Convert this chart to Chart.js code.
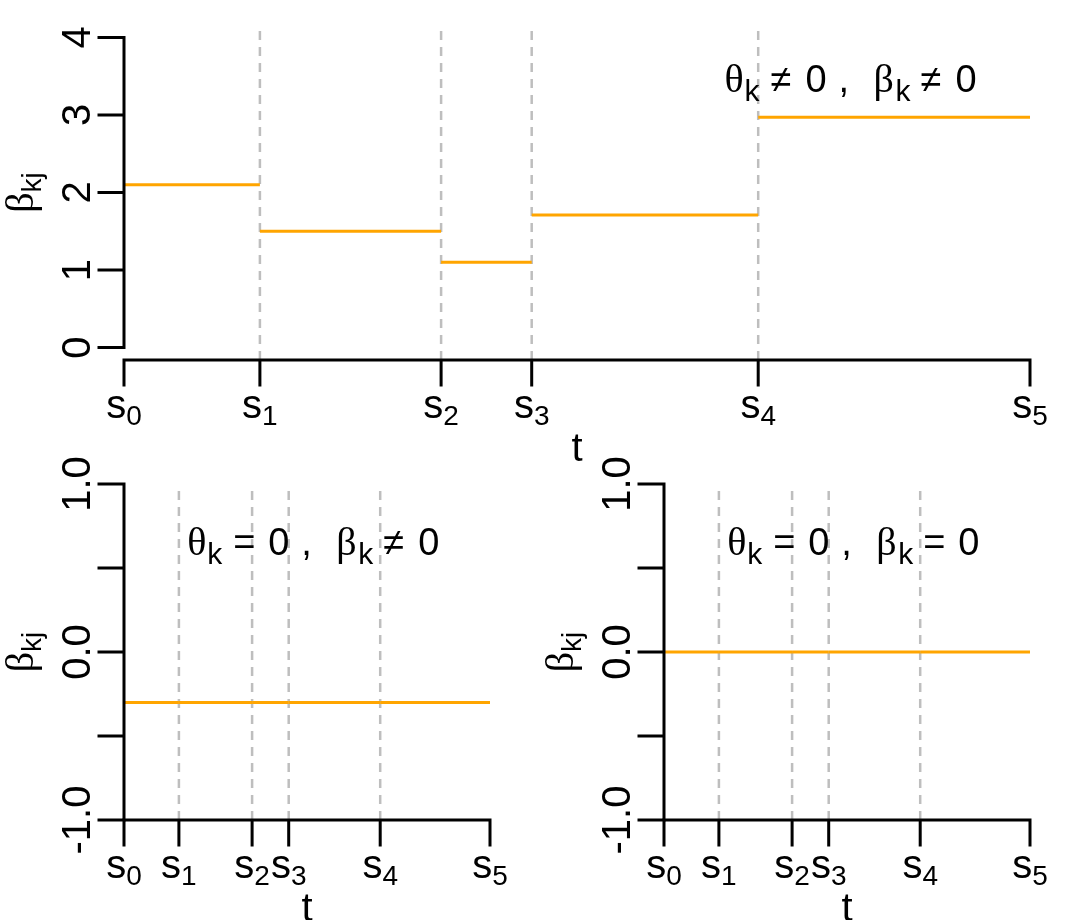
<!DOCTYPE html>
<html>
<head>
<meta charset="utf-8">
<script src="https://cdn.jsdelivr.net/npm/chart.js@4"></script>
<style>
  body { margin: 0; background: #fff; }
  #wrap { position: relative; width: 1080px; height: 920px; }
  #wrap canvas { position: absolute; left: 0; top: 0; }
</style>
</head>
<body>
<div id="wrap">
  <canvas id="top-chart" width="1080" height="920"></canvas>
  <canvas id="left-chart" width="1080" height="920"></canvas>
  <canvas id="right-chart" width="1080" height="920"></canvas>
</div>
<script>
// change points s0..s5 on the t axis
const breaks = [0, 0.15, 0.35, 0.45, 0.70, 1.0];
const breakSubs = ['0', '1', '2', '3', '4', '5'];

// step heights between consecutive change points
const topLevels = [2.1, 1.5, 1.1, 1.71, 2.97];
const leftLevels = [-0.3, -0.3, -0.3, -0.3, -0.3];
const rightLevels = [0, 0, 0, 0, 0];

// y axis ticks
const topYTicks = [0, 1, 2, 3, 4];
const topYLabels = ['0', '1', '2', '3', '4'];
const bottomYTicks = [-1, -0.5, 0, 0.5, 1];
const bottomYLabels = ['-1.0', '', '0.0', '', '1.0'];

const ORANGE = '#FFA500';
const GREY = '#BEBEBE';
const SANS = '"Liberation Sans", Arial, sans-serif';
const SERIF = '"Liberation Serif", "DejaVu Serif", serif';

/**
 * Build the orange step segments (no vertical connectors, like R segments)
 */
function stepDatasets(levels) {
    return levels.map((v, i) => ({
        data: [{ x: breaks[i], y: v }, { x: breaks[i + 1], y: v }],
        borderColor: ORANGE,
        borderWidth: 3,
        borderCapStyle: 'butt',
        pointRadius: 0,
        order: 1
    }));
}

/**
 * Dashed vertical lines at the inner change points
 */
function breakLines(yMin, yMax) {
    return breaks.slice(1, -1).map(b => ({
        data: [{ x: b, y: yMin }, { x: b, y: yMax }],
        borderColor: GREY,
        borderWidth: 2.5,
        borderDash: [9, 7],
        pointRadius: 0,
        order: 2
    }));
}

// R base-graphics style axes, titles and the math annotation
const rAxes = {
    id: 'rAxes',
    afterDraw(chart, args, opts) {
        const ctx = chart.ctx;
        const xs = chart.scales.x;
        const ys = chart.scales.y;
        const area = chart.chartArea;
        ctx.save();
        ctx.strokeStyle = '#000';
        ctx.fillStyle = '#000';
        ctx.lineWidth = 3;
        ctx.lineCap = 'square';

        // y axis
        const x0 = area.left;
        const yt = opts.yTicks;
        ctx.beginPath();
        ctx.moveTo(x0, ys.getPixelForValue(yt[0]));
        ctx.lineTo(x0, ys.getPixelForValue(yt[yt.length - 1]));
        yt.forEach(v => {
            const py = ys.getPixelForValue(v);
            ctx.moveTo(x0, py);
            ctx.lineTo(x0 - 25, py);
        });
        ctx.stroke();
        ctx.font = '40px ' + SANS;
        ctx.textAlign = 'center';
        ctx.textBaseline = 'alphabetic';
        yt.forEach((v, i) => {
            if (!opts.yLabels[i]) return;
            ctx.save();
            ctx.translate(x0 - 34, ys.getPixelForValue(v));
            ctx.rotate(-Math.PI / 2);
            ctx.fillText(opts.yLabels[i], 0, 0);
            ctx.restore();
        });

        // x axis
        const y0 = area.bottom;
        ctx.beginPath();
        ctx.moveTo(xs.getPixelForValue(breaks[0]), y0);
        ctx.lineTo(xs.getPixelForValue(breaks[breaks.length - 1]), y0);
        breaks.forEach(b => {
            const px = xs.getPixelForValue(b);
            ctx.moveTo(px, y0);
            ctx.lineTo(px, y0 + 25);
        });
        ctx.stroke();
        ctx.textAlign = 'left';
        breaks.forEach((b, i) => {
            const px = xs.getPixelForValue(b);
            ctx.font = '40px ' + SANS;
            const ws = ctx.measureText('s').width;
            ctx.font = '28px ' + SANS;
            const wd = ctx.measureText(breakSubs[i]).width;
            const start = px - (ws + wd) / 2;
            ctx.font = '40px ' + SANS;
            ctx.fillText('s', start, y0 + 58);
            ctx.font = '28px ' + SANS;
            ctx.fillText(breakSubs[i], start + ws, y0 + 65);
        });

        // x title
        ctx.font = '40px ' + SANS;
        ctx.textAlign = 'center';
        ctx.fillText('t', (area.left + area.right) / 2, y0 + 101);

        // y title (beta_kj)
        ctx.save();
        ctx.translate(x0 - 91, (area.top + area.bottom) / 2);
        ctx.rotate(-Math.PI / 2);
        ctx.font = '40px ' + SERIF;
        const wb = ctx.measureText('β').width;
        ctx.font = '28px ' + SANS;
        const wkj = ctx.measureText('kj').width;
        ctx.textAlign = 'left';
        ctx.font = '40px ' + SERIF;
        ctx.fillText('β', -(wb + wkj) / 2, 0);
        ctx.font = '28px ' + SANS;
        ctx.fillText('kj', -(wb + wkj) / 2 + wb, 8);
        ctx.restore();

        // annotation
        const a = opts.ann;
        const cx = xs.getPixelForValue(a.x);
        const by = ys.getPixelForValue(a.y);
        const sx = cx - 127;
        const greek = '40px ' + SERIF;
        const main = '38px ' + SANS;
        const sub = '30px ' + SANS;
        const pieces = [
            { t: 'θ', f: greek, dx: 0, dy: 0 },
            { t: 'k', f: sub, dx: 20, dy: 9 },
            { t: a.rel1, f: main, dx: 46, dy: 0 },
            { t: '0', f: main, dx: 81, dy: 0 },
            { t: ',', f: main, dx: 114, dy: 0 },
            { t: 'β', f: greek, dx: 149, dy: 0 },
            { t: 'k', f: sub, dx: 171, dy: 9 },
            { t: a.rel2, f: main, dx: 196, dy: 0 },
            { t: '0', f: main, dx: 231, dy: 0 }
        ];
        ctx.textAlign = 'left';
        pieces.forEach(p => {
            ctx.font = p.f;
            ctx.fillText(p.t, sx + p.dx, by + p.dy);
        });
        ctx.restore();
    }
};

/**
 * Create one panel; padding places the plot region on the shared page canvas
 */
function makePanel(id, levels, yMin, yMax, padding, axesOpts) {
    const ctx = document.getElementById(id).getContext('2d');
    return new Chart(ctx, {
        type: 'line',
        data: {
            datasets: [...stepDatasets(levels), ...breakLines(yMin, yMax)]
        },
        options: {
            responsive: false,
            devicePixelRatio: 1,
            animation: false,
            events: [],
            layout: { padding: padding },
            plugins: {
                legend: { display: false },
                tooltip: { enabled: false },
                rAxes: axesOpts
            },
            scales: {
                x: { type: 'linear', min: 0, max: 1, display: false },
                y: { type: 'linear', min: yMin, max: yMax, display: false }
            }
        },
        plugins: [rAxes]
    });
}

makePanel('top-chart', topLevels, -0.16, 4.16,
    { left: 124, right: 50, top: 25, bottom: 560 },
    { yTicks: topYTicks, yLabels: topYLabels, ann: { x: 0.803, y: 3.29, rel1: '≠', rel2: '≠' } });

makePanel('left-chart', leftLevels, -1, 1,
    { left: 124, right: 590, top: 484, bottom: 100 },
    { yTicks: bottomYTicks, yLabels: bottomYLabels, ann: { x: 0.52, y: 0.577, rel1: '=', rel2: '≠' } });

makePanel('right-chart', rightLevels, -1, 1,
    { left: 664, right: 50, top: 484, bottom: 100 },
    { yTicks: bottomYTicks, yLabels: bottomYLabels, ann: { x: 0.52, y: 0.577, rel1: '=', rel2: '=' } });
</script>
</body>
</html>
